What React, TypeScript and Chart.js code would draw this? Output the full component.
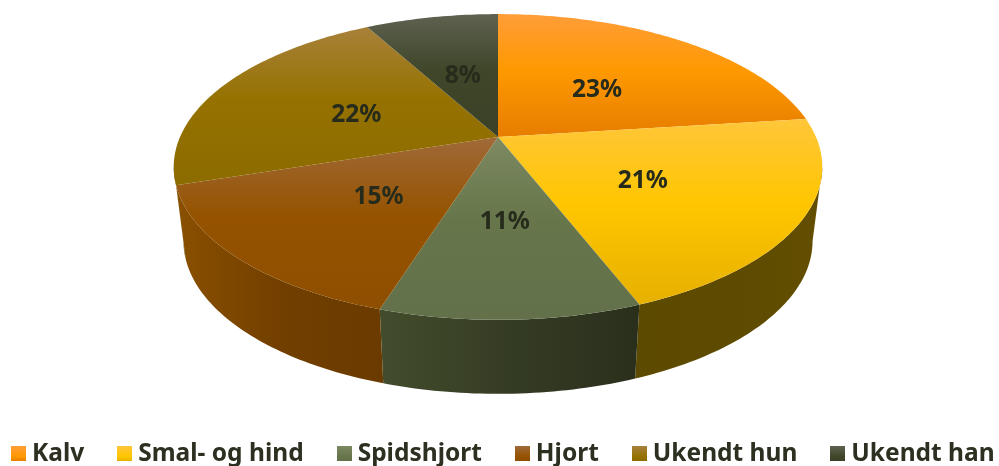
import React, { useEffect, useRef } from "react";
import { Chart, registerables } from "chart.js";

Chart.register(...registerables);

const categories = ["Kalv", "Smal- og hind", "Spidshjort", "Hjort", "Ukendt hun", "Ukendt han"];
const shares = [23, 21.08, 10.81, 15.11, 22, 8];

const baseColors = ["#ff9900", "#ffc600", "#66754a", "#955300", "#957200", "#3f4629"];
const lightColors = ["#ff9d38", "#ffc63a", "#7d8a62", "#a06a38", "#a8813a", "#5e6250"];
const darkColors = ["#e67d00", "#e6b000", "#62714a", "#8f4e00", "#8c6b00", "#3a4126"];
const wallLeft = ["#000000", "#5c4a00", "#434c2c", "#8a5000", "#6b5200", "#000000"];
const wallMid = ["#000000", "#5e4b00", "#353c24", "#723f00", "#6b5200", "#000000"];
const wallRight = ["#000000", "#634e00", "#2a2f1c", "#6a3a00", "#6b5200", "#000000"];

const FONT = "'Noto Sans'";
const TEXT_COLOR = "#2b3020";

// canvas is wider than the page so the legend fits on one row, shifted left by OFFSET
const OFFSET = 22;
// perspective projection of the pie disc
const CX = 498 + OFFSET, APEX_Y = 137, RX = 318, RY = 147, K = -0.196;
const BOTTOM_Y = 211, BOTTOM_SCALE = 0.97;
const WALL_FROM = (101.3 * Math.PI) / 180;
const WALL_TO = (258.7 * Math.PI) / 180;

function project(theta: number, r: number, lower = false) {
  const u = r * Math.sin(theta);
  const v = -r * Math.cos(theta);
  const w = 1 + K * v;
  return {
    x: CX + (RX * (lower ? BOTTOM_SCALE : 1) * u) / w,
    y: (lower ? BOTTOM_Y : APEX_Y) + (RY * v) / w,
  };
}

function arcPoints(a: number, b: number, lower = false) {
  const n = Math.max(2, Math.ceil(((b - a) * 180) / Math.PI));
  const pts = [];
  for (let i = 0; i <= n; i++) pts.push(project(a + ((b - a) * i) / n, 1, lower));
  return pts;
}

const pie3d = {
  id: "pie3d",
  beforeDatasetsDraw(chart: any) {
    const ctx = chart.ctx as CanvasRenderingContext2D;
    const arcs = chart.getDatasetMeta(0).data;
    const range = (el: any) => ({
      a: el.startAngle + Math.PI / 2,
      b: el.endAngle + Math.PI / 2,
    });
    // outer wall
    arcs.forEach((el: any, i: number) => {
      const { a, b } = range(el);
      const from = Math.max(a, WALL_FROM);
      const to = Math.min(b, WALL_TO);
      if (to <= from) return;
      const top = arcPoints(from, to);
      const bottom = arcPoints(from, to, true).reverse();
      const all = top.concat(bottom);
      const xs = all.map((p) => p.x);
      const g = ctx.createLinearGradient(Math.min(...xs), 0, Math.max(...xs), 0);
      g.addColorStop(0, wallLeft[i]);
      g.addColorStop(0.5, wallMid[i]);
      g.addColorStop(1, wallRight[i]);
      ctx.beginPath();
      all.forEach((p, j) => (j ? ctx.lineTo(p.x, p.y) : ctx.moveTo(p.x, p.y)));
      ctx.closePath();
      ctx.fillStyle = g;
      ctx.fill();
    });
    // top face
    arcs.forEach((el: any, i: number) => {
      const { a, b } = range(el);
      const pts = arcPoints(a, b);
      const apex = project(0, 0);
      const ys = pts.map((p) => p.y).concat(apex.y);
      const g = ctx.createLinearGradient(0, Math.min(...ys), 0, Math.max(...ys));
      g.addColorStop(0, lightColors[i]);
      g.addColorStop(0.46, baseColors[i]);
      g.addColorStop(1, darkColors[i]);
      ctx.beginPath();
      ctx.moveTo(apex.x, apex.y);
      pts.forEach((p) => ctx.lineTo(p.x, p.y));
      ctx.closePath();
      ctx.fillStyle = g;
      ctx.fill();
    });
    // percentage labels
    ctx.save();
    ctx.font = `bold 24.5px ${FONT}`;
    ctx.fillStyle = "#262b1c";
    ctx.textAlign = "center";
    ctx.textBaseline = "middle";
    arcs.forEach((el: any, i: number) => {
      const { a, b } = range(el);
      const p = project((a + b) / 2, 0.5);
      ctx.fillText(`${Math.round(shares[i])}%`, p.x + 1, p.y + 4);
    });
    ctx.restore();
    return false;
  },
};

function swatch(i: number) {
  const c = document.createElement("canvas");
  c.width = 15;
  c.height = 15;
  const x = c.getContext("2d")!;
  const g = x.createLinearGradient(0, 0, 0, 15);
  g.addColorStop(0, lightColors[i]);
  g.addColorStop(0.7, baseColors[i]);
  g.addColorStop(1, darkColors[i]);
  x.fillStyle = g;
  x.fillRect(0, 0, 15, 15);
  return c;
}

export default function App() {
  const ref = useRef<HTMLCanvasElement>(null);
  useEffect(() => {
    const chart = new Chart(ref.current!, {
      type: "pie",
      data: {
        labels: categories,
        datasets: [{ data: shares, backgroundColor: baseColors, borderWidth: 0 }],
      },
      options: {
        responsive: false,
        animation: false,
        plugins: {
          tooltip: { enabled: false },
          legend: {
            display: true,
            position: "bottom",
            align: "start",
            labels: {
              usePointStyle: true,
              pointStyleWidth: 2.5,
              padding: 39.25,
              color: TEXT_COLOR,
              font: { family: FONT, size: 24.5, weight: "bold", lineHeight: 1 },
              generateLabels: () =>
                categories.map((text, i) => ({
                  text,
                  fillStyle: baseColors[i],
                  strokeStyle: baseColors[i],
                  lineWidth: 0,
                  hidden: false,
                  index: i,
                  pointStyle: swatch(i),
                  fontColor: TEXT_COLOR,
                })),
            },
          },
        },
      },
      plugins: [pie3d],
    } as any);
    return () => chart.destroy();
  }, []);
  return (
    <div style={{ position: "absolute", left: 0, top: 0, width: 999, height: 466, overflow: "hidden", background: "#fff" }}>
      <canvas ref={ref} width={1100} height={476} style={{ display: "block", marginLeft: -OFFSET }} />
    </div>
  );
}
